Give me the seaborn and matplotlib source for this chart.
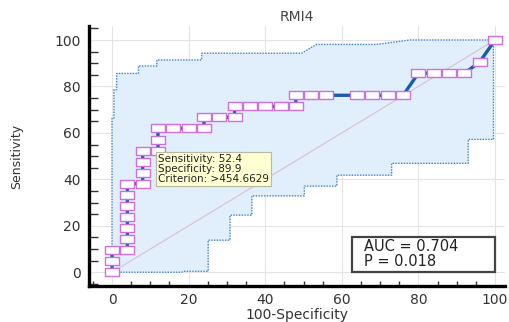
import matplotlib
matplotlib.use("Agg")
import matplotlib.pyplot as plt
import seaborn as sns
import pandas as pd
from matplotlib.patches import Rectangle
from matplotlib.ticker import MultipleLocator

# ROC points (100-Specificity, Sensitivity)
fpr = [0, 0, 0, 4, 4, 4, 4, 4, 4, 4, 8, 8, 8, 8, 12, 12, 12, 16, 20, 24,
       24, 28, 32, 32, 36, 40, 44, 48, 48, 52, 56, 64, 68, 72, 76,
       80, 84, 88, 92, 96, 100]
sens = [0, 4.8, 9.5, 9.5, 14.3, 19.0, 23.8, 28.6, 33.3, 38.1, 38.1, 42.9, 47.6, 52.4,
        52.4, 57.1, 61.9, 61.9, 61.9, 61.9, 66.7, 66.7, 66.7, 71.4, 71.4, 71.4,
        71.4, 71.4, 76.2, 76.2, 76.2, 76.2, 76.2, 76.2, 76.2,
        85.7, 85.7, 85.7, 85.7, 90.5, 100]

# confidence band, upper and lower step boundaries
upper_x = [0, 0, 0.5, 0.5, 1.2, 1.2, 6.9, 6.9, 11.7, 11.7, 23.4, 23.4, 49.5, 53.4, 69.1, 77.8, 100]
upper_y = [0, 66.4, 66.4, 78.6, 78.6, 85.6, 85.6, 88.8, 88.8, 91.4, 91.4, 94.3, 94.3, 98.1, 98.1, 100, 100]
lower_x = [0, 18.2, 18.5, 25.1, 25.1, 30.8, 30.8, 36.5, 36.5, 50.2, 50.2, 58.7, 58.7,
           73.0, 73.0, 93.0, 93.0, 99.6, 99.6, 100]
lower_y = [0, 0, 0.4, 0.4, 13.8, 13.8, 24.6, 24.6, 32.9, 32.9, 37.1, 37.1, 41.8,
           41.8, 46.9, 46.9, 57.2, 57.2, 100, 100]

TITLE = "RMI4"
TIP = "Sensitivity: 52.4\nSpecificity: 89.9\nCriterion: >454.6629"
STATS = "AUC = 0.704\nP = 0.018"

sns.set_theme(style="white")
plt.rcParams["font.family"] = ["DejaVu Sans"]

fig = plt.figure(figsize=(5.09, 3.22), dpi=100)
ax = fig.add_axes([0.175, 0.112, 0.817, 0.807])

band_x = upper_x + lower_x[::-1]
band_y = upper_y + lower_y[::-1]
ax.fill(band_x, band_y, color="#e1eefc", zorder=1)
ax.plot(upper_x, upper_y, color="#4a86c8", lw=1.0, ls=(0, (1, 1)), zorder=2)
ax.plot(lower_x, lower_y, color="#4a86c8", lw=1.0, ls=(0, (1, 1)), zorder=2)

ax.plot([0, 100], [0, 100], color="#dcc4d2", lw=0.9, zorder=2)

roc = pd.DataFrame({"fpr": fpr, "sens": sens})
box = [(-1, -0.55), (1, -0.55), (1, 0.55), (-1, 0.55), (-1, -0.55)]
sns.lineplot(data=roc, x="fpr", y="sens", sort=False, estimator=None, ax=ax,
             color="#1d5aa8", lw=2.4, marker=box, markersize=9.5,
             markerfacecolor="white", markeredgecolor="#cc70dd",
             markeredgewidth=1.0, zorder=4)

ax.set_xlim(-6.0, 102.6)
ax.set_ylim(-5.9, 106)
ax.xaxis.set_minor_locator(MultipleLocator(5))
ax.yaxis.set_minor_locator(MultipleLocator(5))
ax.set_xticks([0, 20, 40, 60, 80, 100])
ax.set_yticks([0, 20, 40, 60, 80, 100])
ax.grid(True, which="major", color="#e4e4e4", lw=0.8, zorder=0)
ax.set_axisbelow(True)

for s in ("top", "right"):
    ax.spines[s].set_visible(False)
for s in ("left", "bottom"):
    ax.spines[s].set_color("black")
    ax.spines[s].set_linewidth(2.4)

ax.tick_params(axis="x", which="major", direction="in", length=7, width=1.2,
               color="#333333", labelsize=10, labelcolor="#333333", pad=5)
ax.tick_params(axis="x", which="minor", direction="in", length=3.6, width=1.0,
               color="#333333", bottom=True)
ax.tick_params(axis="y", which="major", direction="in", length=13.5, width=1.2,
               color="#666666", labelsize=10, labelcolor="#333333", pad=6)
ax.tick_params(axis="y", which="minor", direction="in", length=6.5, width=1.0,
               color="#333333", left=True)

ax.set_xlabel("100-Specificity", fontsize=10, color="#333333", labelpad=1)
ax.set_ylabel("Sensitivity", fontsize=9, color="#333333")
ax.yaxis.set_label_coords(-0.158, 0.5)
ax.set_title(TITLE, fontsize=10, color="#444444", pad=4)

ax.text(11.9, 50.8, TIP, fontsize=7.5, color="#222222",
        va="top", ha="left", linespacing=1.0, zorder=6,
        bbox=dict(boxstyle="square,pad=0.2", facecolor="#ffffd2",
                  edgecolor="#b8b8a0", lw=0.8))

ax.add_patch(Rectangle((0.632, 0.053), 0.344, 0.136, transform=ax.transAxes,
                       facecolor="white", edgecolor="#444444", lw=1.6, zorder=6))
ax.text(0.66, 0.121, STATS, transform=ax.transAxes, fontsize=10.5, color="#222222",
        va="center", ha="left", linespacing=1.0, zorder=7)

fig.savefig("out.png", dpi=100)
